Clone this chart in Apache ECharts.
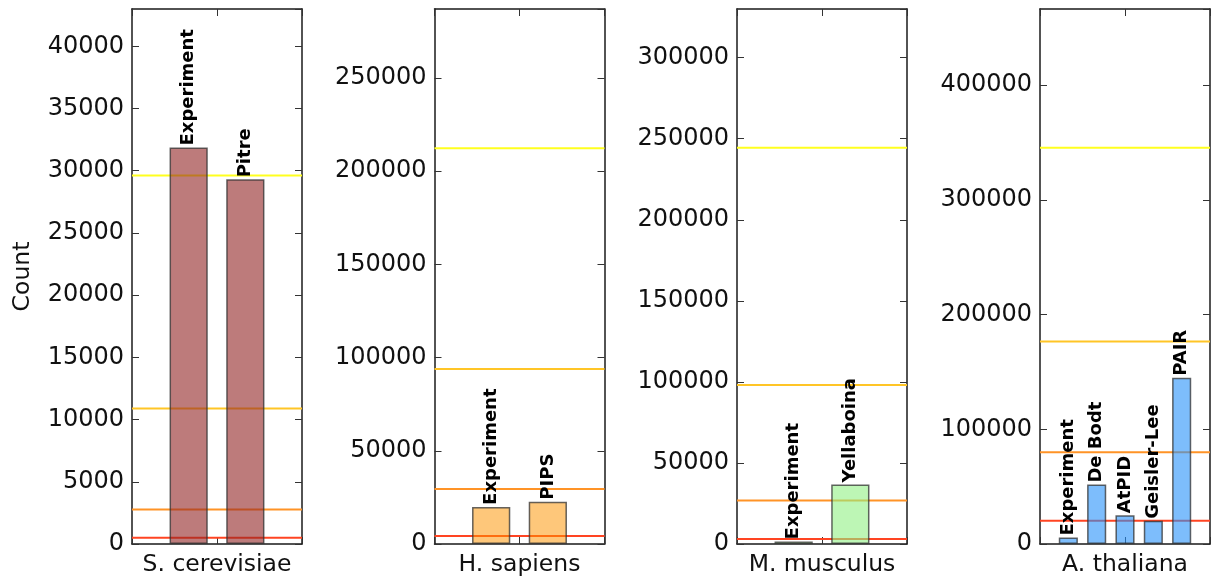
<!DOCTYPE html>
<html>
<head>
<meta charset="utf-8">
<script src="https://cdn.jsdelivr.net/npm/echarts@6/dist/echarts.min.js"></script>
<style>
html,body{margin:0;padding:0;background:#fff;}
#chart{width:1211px;height:582px;}
</style>
</head>
<body>
<div id="chart"></div>
<script>
// ---- data ----
const species = ['S. cerevisiae', 'H. sapiens', 'M. musculus', 'A. thaliana'];

const methodsSc = ['Experiment', 'Pitre'];
const countsSc = [31870, 29310];
const methodsHs = ['Experiment', 'PIPS'];
const countsHs = [19900, 22700];
const methodsMm = ['Experiment', 'Yellaboina'];
const countsMm = [1600, 36700];
const methodsAt = ['Experiment', 'De Bodt', 'AtPID', 'Geisler-Lee', 'PAIR'];
const countsAt = [5660, 51800, 25100, 20200, 144900];

// horizontal reference levels (red, dark orange, gold, yellow)
const levelsSc = [510, 2780, 10900, 29610];
const levelsHs = [4230, 29440, 93840, 212300];
const levelsMm = [3020, 26800, 98000, 244400];
const levelsAt = [20200, 80000, 176600, 345500];

const yMax = [43000, 287000, 330000, 466500];
const yStep = [5000, 50000, 50000, 100000];
const yAxisTitle = 'Count';

// ---- styling ----
const FONT = 'DejaVu Sans';
const levelColors = ['#ff4422', '#ff9326', '#ffc526', '#ffff1f'];
const barColors = ['rgba(145,35,35,0.6)', 'rgba(253,147,0,0.52)', 'rgba(145,240,132,0.6)', 'rgba(38,145,250,0.6)'];
const gridLefts = [132, 434.5, 737, 1040];
const gridW = 170, gridTop = 9, gridH = 536;

const panels = [
  {methods: methodsSc, counts: countsSc, levels: levelsSc},
  {methods: methodsHs, counts: countsHs, levels: levelsHs},
  {methods: methodsMm, counts: countsMm, levels: levelsMm},
  {methods: methodsAt, counts: countsAt, levels: levelsAt}
];

const grid = [], xAxis = [], yAxis = [], series = [];
const axisLineStyle = {color: '#1a1a1a', width: 1.5};
const tickStyle = {color: '#333', width: 1};

panels.forEach((p, i) => {
  const n = p.methods.length;
  const xmax = n + 1;
  grid.push({left: gridLefts[i], top: gridTop, width: gridW, height: gridH, containLabel: false});
  // bottom x axis
  xAxis.push({
    type: 'value', gridIndex: i, min: 0, max: xmax, interval: xmax / 2, position: 'bottom',
    name: species[i], nameLocation: 'middle', nameGap: 9,
    nameTextStyle: {fontFamily: FONT, fontSize: 23.5, color: '#111', verticalAlign: 'top'},
    axisLine: {show: true, onZero: false, lineStyle: axisLineStyle},
    axisTick: {show: true, inside: true, length: 7, lineStyle: tickStyle},
    axisLabel: {show: false}, splitLine: {show: false}
  });
  // top x axis
  xAxis.push({
    type: 'value', gridIndex: i, min: 0, max: xmax, interval: xmax / 2, position: 'top',
    axisLine: {show: true, onZero: false, lineStyle: axisLineStyle},
    axisTick: {show: true, inside: true, length: 7, lineStyle: tickStyle},
    axisLabel: {show: false}, splitLine: {show: false}
  });
  // left y axis
  yAxis.push({
    type: 'value', gridIndex: i, min: 0, max: yMax[i], interval: yStep[i], position: 'left',
    name: i === 0 ? yAxisTitle : '', nameLocation: 'middle', nameGap: 97,
    nameTextStyle: {fontFamily: FONT, fontSize: 23.5, color: '#111'},
    axisLine: {show: true, onZero: false, lineStyle: axisLineStyle},
    axisTick: {show: true, inside: true, length: 7, lineStyle: tickStyle},
    axisLabel: {show: true, showMaxLabel: false, margin: 8, fontFamily: FONT, fontSize: 24, color: '#111',
      formatter: (v) => String(v)},
    splitLine: {show: false}
  });
  // right y axis
  yAxis.push({
    type: 'value', gridIndex: i, min: 0, max: yMax[i], interval: yStep[i], position: 'right',
    axisLine: {show: true, onZero: false, lineStyle: axisLineStyle},
    axisTick: {show: true, inside: true, length: 7, lineStyle: tickStyle},
    axisLabel: {show: false}, splitLine: {show: false}
  });

  // reference lines (under bars)
  p.levels.forEach((lv, k) => {
    series.push({
      type: 'line', xAxisIndex: 2 * i, yAxisIndex: 2 * i, z: 1, silent: true,
      symbol: 'none', animation: false,
      lineStyle: {color: levelColors[k], width: 2},
      data: [[0, lv], [xmax, lv]]
    });
  });

  // bars
  series.push({
    type: 'bar', xAxisIndex: 2 * i, yAxisIndex: 2 * i, z: 2, animation: false,
    barWidth: gridW / xmax * 0.675,
    itemStyle: {color: barColors[i], borderColor: 'rgba(50,50,50,0.75)', borderWidth: 1.5},
    label: {
      show: true, position: 'top', rotate: 90, align: 'left', verticalAlign: 'middle',
      distance: 2, fontFamily: FONT, fontWeight: 'bold', fontSize: 18, color: '#000',
      formatter: (d) => p.methods[d.dataIndex]
    },
    data: p.counts.map((c, j) => [j + 1, c])
  });
});

const chart = echarts.init(document.getElementById('chart'), null, {renderer: 'canvas'});
chart.setOption({animation: false, backgroundColor: '#fff', grid, xAxis, yAxis, series});
</script>
</body>
</html>
